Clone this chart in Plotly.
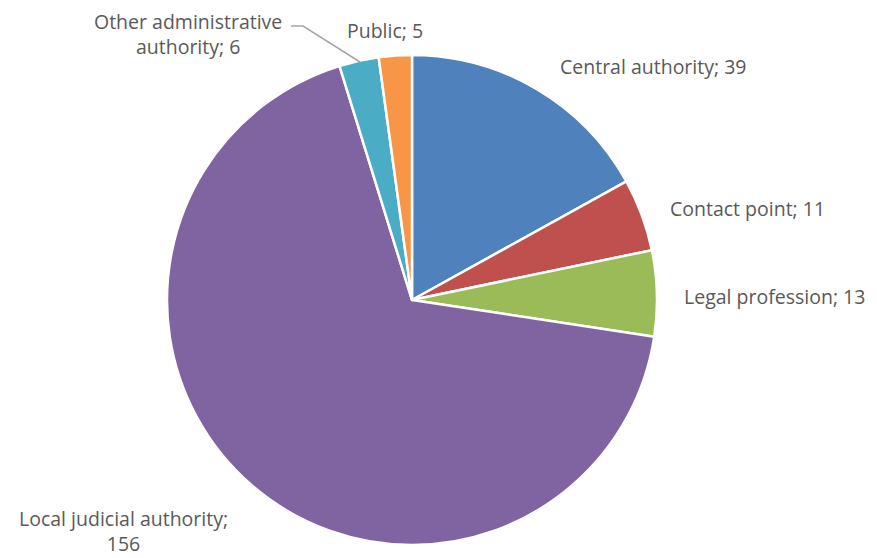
import plotly.graph_objects as go

categories = ["Central authority", "Contact point", "Legal profession",
              "Local judicial authority", "Other administrative authority", "Public"]
values = [39, 11, 13, 156, 6, 5]
colors = ["#4F81BD", "#C0504D", "#9BBB59", "#8064A2", "#4BACC6", "#F79646"]

# page body has an 8px margin; work in reference-pixel coordinates
OFF = 8
W, H = 877 - OFF, 558 - OFF
cx, cy, r = 412, 300, 245

def px(x):
    return (x - OFF) / W

def py(y):
    return 1 - (y - OFF) / H

fig = go.Figure(go.Pie(
    labels=categories, values=values, sort=False, direction="clockwise",
    rotation=0, textinfo="none", hoverinfo="label+value",
    marker=dict(colors=colors, line=dict(color="white", width=2.5)),
    domain=dict(x=[px(cx - r), px(cx + r)], y=[py(cy + r), py(cy - r)]),
    showlegend=False,
))

label_text = [
    "Central authority; 39",
    "Contact point; 11",
    "Legal profession; 13",
    "Local judicial authority;<br>156",
    "Other administrative<br>authority; 6",
    "Public; 5",
]
label_pos = [(653, 66), (747, 208), (774, 296), (124, 531), (188, 34), (385, 30)]

for t, (x, y) in zip(label_text, label_pos):
    fig.add_annotation(x=px(x), y=py(y), xref="paper", yref="paper", text=t,
                       showarrow=False, xanchor="center", yanchor="middle",
                       align="center",
                       font=dict(family="Open Sans", size=19.5, color="#595959"))

fig.add_shape(type="path", xref="paper", yref="paper",
              path=f"M {px(291)} {py(26)} L {px(303)} {py(26)} L {px(360)} {py(62)}",
              line=dict(color="#A6A6A6", width=1.5))

fig.update_layout(width=W, height=H, margin=dict(l=0, r=0, t=0, b=0),
                  paper_bgcolor="white", plot_bgcolor="white")
fig.write_html("out.html")
